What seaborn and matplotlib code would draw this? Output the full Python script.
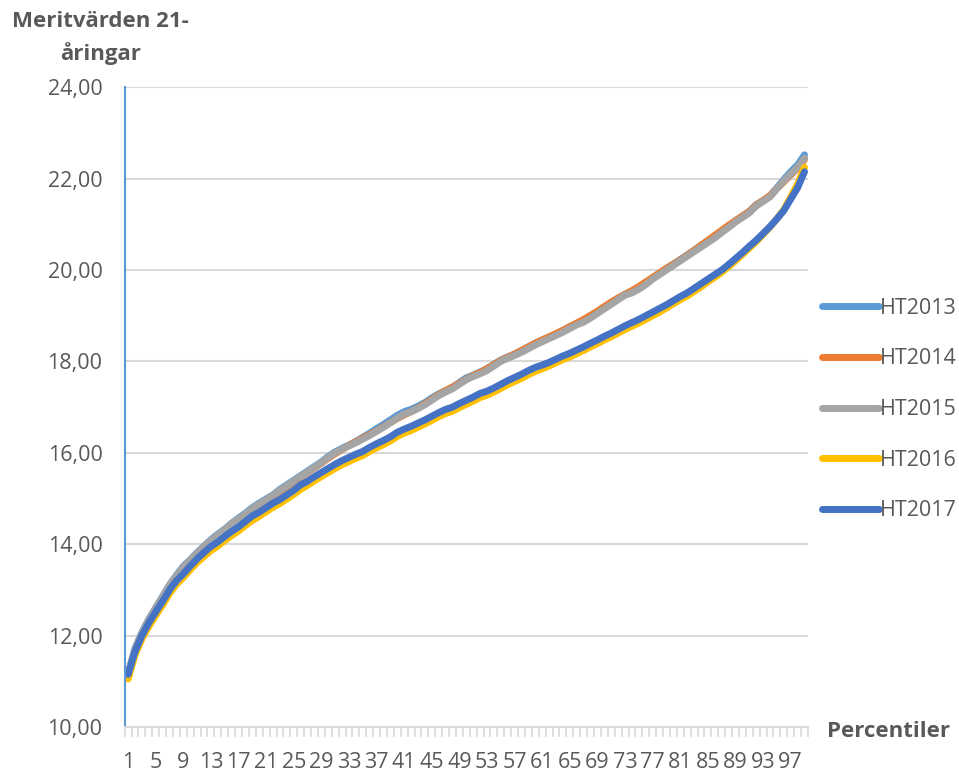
import pandas as pd
import numpy as np
import matplotlib
matplotlib.use('Agg')
import matplotlib.pyplot as plt
from matplotlib.ticker import FixedLocator, FuncFormatter
import seaborn as sns

# Percentiler 1-99
percentiler = list(range(1, 100))

ht2013 = [11.18, 11.72, 12.07, 12.36, 12.61, 12.86, 13.11, 13.32, 13.52, 13.66,
          13.82, 13.96, 14.10, 14.22, 14.33, 14.46, 14.57, 14.68, 14.80, 14.90,
          14.99, 15.08, 15.20, 15.30, 15.40, 15.50, 15.60, 15.70, 15.80, 15.92,
          16.02, 16.10, 16.17, 16.25, 16.34, 16.43, 16.53, 16.62, 16.72, 16.82,
          16.90, 16.95, 17.02, 17.10, 17.20, 17.29, 17.36, 17.43, 17.54, 17.64,
          17.70, 17.77, 17.84, 17.94, 18.03, 18.10, 18.16, 18.24, 18.32, 18.40,
          18.47, 18.53, 18.60, 18.68, 18.76, 18.83, 18.88, 18.98, 19.08, 19.18,
          19.28, 19.38, 19.47, 19.53, 19.60, 19.70, 19.82, 19.93, 20.03, 20.13,
          20.23, 20.33, 20.43, 20.54, 20.64, 20.74, 20.85, 20.96, 21.08, 21.18,
          21.28, 21.43, 21.52, 21.62, 21.80, 21.98, 22.15, 22.30, 22.52]

ht2014 = [11.15, 11.68, 12.03, 12.33, 12.58, 12.83, 13.07, 13.28, 13.47, 13.63,
          13.78, 13.93, 14.06, 14.18, 14.30, 14.42, 14.53, 14.64, 14.76, 14.86,
          14.95, 15.05, 15.16, 15.26, 15.36, 15.47, 15.57, 15.67, 15.77, 15.88,
          15.98, 16.07, 16.16, 16.24, 16.32, 16.40, 16.48, 16.57, 16.66, 16.75,
          16.83, 16.90, 16.98, 17.07, 17.17, 17.27, 17.36, 17.44, 17.52, 17.61,
          17.69, 17.76, 17.84, 17.93, 18.02, 18.09, 18.16, 18.24, 18.32, 18.40,
          18.47, 18.54, 18.61, 18.68, 18.76, 18.84, 18.92, 19.01, 19.10, 19.20,
          19.30, 19.39, 19.47, 19.55, 19.64, 19.74, 19.84, 19.94, 20.04, 20.13,
          20.22, 20.32, 20.43, 20.54, 20.65, 20.76, 20.87, 20.98, 21.08, 21.18,
          21.28, 21.42, 21.52, 21.63, 21.78, 21.93, 22.08, 22.23, 22.42]

ht2015 = [11.15, 11.70, 12.05, 12.35, 12.60, 12.85, 13.10, 13.30, 13.50, 13.65,
          13.80, 13.95, 14.08, 14.20, 14.32, 14.45, 14.55, 14.66, 14.78, 14.88,
          14.97, 15.07, 15.18, 15.28, 15.38, 15.48, 15.58, 15.68, 15.78, 15.90,
          16.00, 16.08, 16.15, 16.22, 16.30, 16.38, 16.47, 16.56, 16.66, 16.76,
          16.85, 16.90, 16.97, 17.05, 17.15, 17.25, 17.33, 17.40, 17.50, 17.60,
          17.67, 17.73, 17.80, 17.90, 18.00, 18.07, 18.13, 18.20, 18.28, 18.36,
          18.43, 18.50, 18.57, 18.64, 18.72, 18.80, 18.86, 18.95, 19.05, 19.15,
          19.25, 19.35, 19.45, 19.50, 19.58, 19.68, 19.80, 19.90, 20.00, 20.10,
          20.20, 20.30, 20.40, 20.50, 20.60, 20.70, 20.82, 20.93, 21.05, 21.15,
          21.25, 21.40, 21.50, 21.60, 21.78, 21.95, 22.10, 22.25, 22.45]

ht2016 = [11.05, 11.58, 11.93, 12.20, 12.44, 12.67, 12.92, 13.12, 13.27, 13.44,
          13.60, 13.73, 13.86, 13.96, 14.08, 14.19, 14.29, 14.41, 14.52, 14.61,
          14.71, 14.81, 14.89, 14.99, 15.09, 15.20, 15.29, 15.39, 15.48, 15.57,
          15.66, 15.74, 15.81, 15.88, 15.94, 16.03, 16.11, 16.18, 16.26, 16.36,
          16.43, 16.49, 16.56, 16.63, 16.71, 16.79, 16.86, 16.91, 16.99, 17.06,
          17.13, 17.21, 17.26, 17.33, 17.41, 17.49, 17.56, 17.63, 17.71, 17.78,
          17.84, 17.90, 17.97, 18.04, 18.10, 18.17, 18.24, 18.32, 18.39, 18.47,
          18.54, 18.62, 18.70, 18.77, 18.84, 18.92, 19.00, 19.08, 19.17, 19.26,
          19.35, 19.43, 19.53, 19.63, 19.74, 19.84, 19.95, 20.07, 20.20, 20.34,
          20.48, 20.62, 20.78, 20.94, 21.12, 21.32, 21.60, 21.88, 22.25]

ht2017 = [11.15, 11.65, 12.00, 12.28, 12.52, 12.75, 13.00, 13.20, 13.35, 13.52,
          13.68, 13.82, 13.95, 14.05, 14.17, 14.28, 14.38, 14.50, 14.62, 14.70,
          14.80, 14.90, 14.98, 15.08, 15.18, 15.30, 15.38, 15.48, 15.57, 15.66,
          15.75, 15.83, 15.90, 15.97, 16.03, 16.12, 16.20, 16.27, 16.35, 16.45,
          16.52, 16.58, 16.65, 16.72, 16.80, 16.88, 16.95, 17.00, 17.08, 17.15,
          17.22, 17.30, 17.35, 17.42, 17.50, 17.58, 17.65, 17.72, 17.80, 17.87,
          17.92, 17.98, 18.05, 18.12, 18.18, 18.25, 18.32, 18.40, 18.47, 18.55,
          18.62, 18.70, 18.78, 18.85, 18.92, 19.00, 19.08, 19.16, 19.24, 19.33,
          19.42, 19.50, 19.60, 19.70, 19.80, 19.90, 20.00, 20.12, 20.25, 20.38,
          20.52, 20.65, 20.80, 20.95, 21.12, 21.30, 21.55, 21.80, 22.15]

serier = ['HT2013', 'HT2014', 'HT2015', 'HT2016', 'HT2017']
farger = ['#5B9BD5', '#ED7D31', '#A5A5A5', '#FFC000', '#4472C4']
y_ticks = [10, 12, 14, 16, 18, 20, 22, 24]
x_labels = list(range(1, 100, 4))

# long format for seaborn
df = pd.DataFrame({
    'Percentil': percentiler * 5,
    'Meritvarde': ht2013 + ht2014 + ht2015 + ht2016 + ht2017,
    'Ar': sum([[s] * len(percentiler) for s in serier], []),
})

sns.set_style('white')
plt.rcParams['font.family'] = ['Open Sans', 'DejaVu Sans']

text_grey = '#595959'
grid_grey = '#D9D9D9'
fs = 15.5
lw = 5

fig = plt.figure(figsize=(9.59, 7.72), dpi=100)
ax = fig.add_axes([0.130, 0.0583, 0.7125, 0.8287])

sns.lineplot(data=df, x='Percentil', y='Meritvarde', hue='Ar',
             hue_order=serier, palette=farger, linewidth=lw,
             solid_capstyle='round', ax=ax, legend=True)

ax.set_xlim(0.5, 99.5)
ax.set_ylim(10, 24)
ax.set_yticks(y_ticks)
ax.yaxis.set_major_formatter(FuncFormatter(lambda v, p: f'{v:.2f}'.replace('.', ',')))
ax.yaxis.grid(True, color=grid_grey, linewidth=1.5)
ax.xaxis.grid(False)
ax.set_axisbelow(True)

ax.set_xticks(x_labels)
ax.set_xticklabels([str(v) for v in x_labels])
ax.xaxis.set_minor_locator(FixedLocator(np.arange(0.5, 100, 1.0)))
ax.tick_params(axis='x', which='major', length=0, pad=18, labelsize=fs, labelcolor=text_grey)
ax.tick_params(axis='x', which='minor', length=7, width=1.2, color=grid_grey, direction='out', bottom=True)
ax.tick_params(axis='y', which='major', length=0, pad=16, labelsize=fs, labelcolor=text_grey)

for s in ['top', 'right']:
    ax.spines[s].set_visible(False)
ax.spines['left'].set_color('#5B9BD5')
ax.spines['left'].set_linewidth(1.5)
ax.spines['bottom'].set_color(grid_grey)
ax.spines['bottom'].set_linewidth(1.5)

ax.set_xlabel('')
ax.set_ylabel('')

leg = ax.legend(frameon=False, loc='center left', bbox_to_anchor=(0.846, 0.4695),
                bbox_transform=fig.transFigure, fontsize=fs, handlelength=2.65,
                handletextpad=0.05, labelspacing=1.38, borderpad=0)
for t in leg.get_texts():
    t.set_color(text_grey)
for line in leg.get_lines():
    line.set_linewidth(lw)
    line.set_solid_capstyle('round')

fig.text(0.105, 0.951, 'Meritvärden 21-\nåringar', ha='center', va='center',
         fontsize=16, fontweight='bold', color=text_grey, linespacing=1.55)
fig.text(0.926, 0.053, 'Percentiler', ha='center', va='center',
         fontsize=16, fontweight='bold', color=text_grey)

fig.savefig('out.png', dpi=100)
